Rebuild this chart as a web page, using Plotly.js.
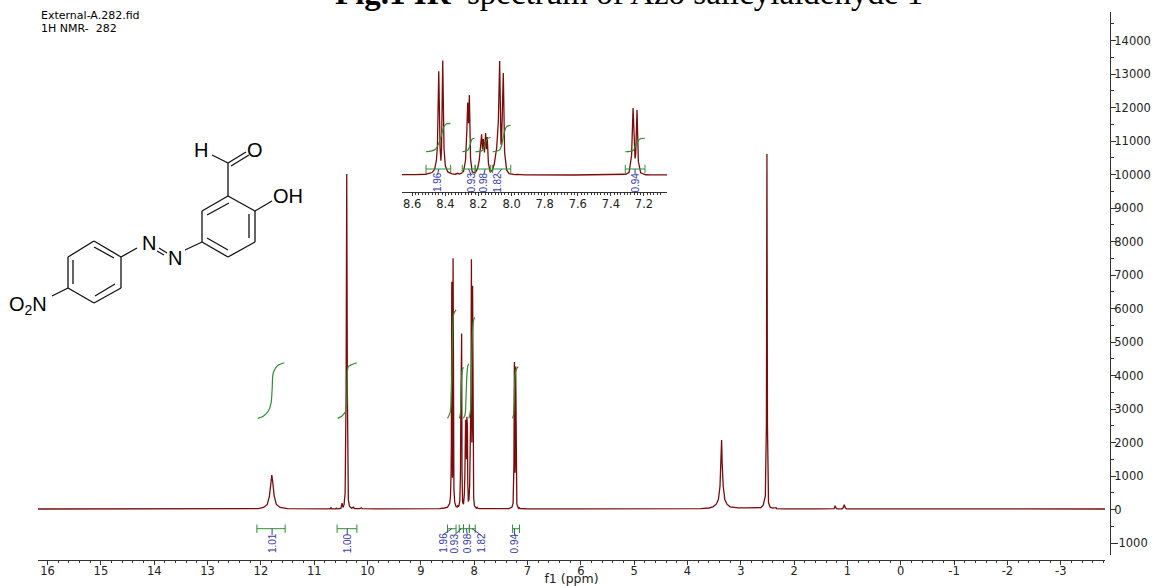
<!DOCTYPE html>
<html><head><meta charset="utf-8">
<script src="https://cdn.plot.ly/plotly-3.0.1.min.js"></script>
<style>html,body{margin:0;padding:0;background:#fff}#c{width:1159px;height:586px}</style></head>
<body><div id="c"></div>
<script>
// ---- spectrum (ppm, intensity)
const ppm = [16.18,14,12.3,12.05,11.95,11.88,11.84,11.81,11.795,11.78,11.75,11.71,11.64,11.5,11,
10.70,10.685,10.67,10.6,10.585,10.57,10.5,10.478,10.462,10.44,10.42,10.402,10.39,10.378,10.36,10.34,10.3,10.26,10.25,10.23,10.14,10.12,10.1,9.8,9,
8.65,8.56,8.5,8.46,8.445,8.434,8.428,8.42,8.412,8.407,8.403,8.396,8.388,8.38,8.365,8.34,8.32,8.305,8.295,8.285,8.27,8.258,8.25,8.245,8.24,8.235,8.228,8.218,8.2,8.185,8.175,8.168,8.161,8.156,8.151,8.144,8.137,8.132,8.127,8.12,8.11,8.098,8.085,8.07,8.06,8.052,8.044,8.04,8.03,8.022,8.01,7.995,7.98,7.96,7.945,7.93,7.9,7.6,7.35,7.29,7.27,7.255,7.246,7.238,7.234,7.23,7.222,7.214,7.2,7.17,7.155,7.14,7.0,6,5,4,
3.75,3.6,3.52,3.46,3.42,3.39,3.37,3.36,3.35,3.33,3.30,3.26,3.2,3.05,2.85,2.7,2.68,2.66,2.62,2.58,2.54,2.52,2.51,2.5,2.48,2.45,2.4,2.35,2.34,2.33,2.2,1.5,1.25,1.23,1.21,1.19,1.1,1.08,1.06,1.04,1.02,0.9,0,-1,-2,-3,-3.83];
const intensity = [15,15,18,25,60,150,400,850,1030,850,400,150,60,25,20,
20,55,20,20,40,20,30,190,60,150,500,3500,10015,3500,300,100,40,70,30,25,25,50,25,20,20,
25,45,70,180,380,1000,1900,6800,1800,950,1800,7500,1700,600,220,90,70,130,80,120,260,1000,3000,4750,3400,5250,1100,220,160,450,1000,1800,2680,1700,2370,1500,2765,1700,2500,800,240,300,700,1800,3500,7470,2000,2400,6680,1500,350,110,60,40,65,35,25,20,25,70,200,1300,4400,1500,1100,1400,4270,900,160,35,55,30,20,18,18,18,
25,45,80,160,300,700,1400,2075,1400,700,300,160,80,50,50,60,75,55,60,130,400,2500,10610,2500,200,70,40,55,60,25,18,18,25,110,30,20,20,50,140,50,20,18,15,15,15,15,15];

// inset axis reads slightly to the left of the main axis
const insetPpmOffset = 0.02;

// ---- integrals: main panel
const int1X=[12.06,11.95,11.86,11.81,11.79,11.77,11.73,11.67,11.56];
const int1Y=[2720,2790,2940,3170,3570,4060,4210,4310,4380];
const int2X=[10.56,10.48,10.41,10.39,10.38,10.36,10.29,10.20];
const int2Y=[2720,2790,2930,3170,3870,4260,4330,4380];
const int3X=[8.50,8.45,8.43,8.41,8.395,8.38,8.34];
const int3Y=[2720,2900,3400,4900,5650,5850,5960];
const int4X=[8.28,8.26,8.245,8.235,8.22,8.20];
const int4Y=[2720,2850,3400,3950,4180,4245];
const int5X=[8.20,8.17,8.15,8.135,8.12,8.10];
const int5Y=[2720,2850,3500,4050,4280,4350];
const int6X=[8.10,8.07,8.05,8.03,8.01,7.99];
const int6Y=[2720,2950,4200,5350,5650,5740];
const int7X=[7.28,7.26,7.245,7.23,7.20,7.17];
const int7Y=[2720,2850,3500,4050,4220,4265];
// ---- integrals: inset
const ins1X=[8.517,8.46,8.43,8.41,8.395,8.37];
const ins1Y=[1540,1700,2400,3150,3350,3400];
const ins2X=[8.298,8.265,8.25,8.24,8.225];
const ins2Y=[1540,1640,2000,2350,2420];
const ins3X=[8.219,8.175,8.16,8.145,8.126];
const ins3Y=[1540,1640,2050,2400,2470];
const ins4X=[8.114,8.07,8.05,8.03,8.005];
const ins4Y=[1540,1700,2500,3180,3270];
const ins5X=[7.313,7.265,7.245,7.225,7.194];
const ins5Y=[1540,1640,2050,2370,2420];

// ---- integral labels and ranges
const intLabels=["1.01","1.00","1.96","0.93","0.98","1.82","0.94"];
const barLeft=[12.075,10.57,8.50,8.28,8.20,8.09,7.28];
const barRight=[11.545,10.20,8.34,8.20,8.09,7.98,7.15];
const barMid=[11.79,10.38,8.42,8.24,8.145,8.04,7.245];
const labelX=[11.79,10.38,8.59,8.37,8.13,7.875,7.245];
const insLabels=["1.96","0.93","0.98","1.82","0.94"];
const insLeft=[8.517,8.298,8.219,8.114,7.313];
const insRight=[8.368,8.221,8.126,8.005,7.194];
const insMid=[8.44,8.26,8.16,8.06,7.254];
const insLabelX=[8.447,8.245,8.167,8.086,7.254];

// ---- ticks
const xTicks=[16,15,14,13,12,11,10,9,8,7,6,5,4,3,2,1,0,-1,-2,-3];
const xTickText=["16","15","14","13","12","11","10","9","8","7","6","5","4","3","2","1","0","-1","-2","-3"];
const yTicks=[-1000,0,1000,2000,3000,4000,5000,6000,7000,8000,9000,10000,11000,12000,13000,14000];
const yTickText=["-1000","0","1000","2000","3000","4000","5000","6000","7000","8000","9000","10000","11000","12000","13000","14000"];
const insTicks=[8.6,8.4,8.2,8.0,7.8,7.6,7.4,7.2];
const insTickText=["8.6","8.4","8.2","8.0","7.8","7.6","7.4","7.2"];

// page-pixel helpers (for the drawing and free text)
const PX=p=>(p-38)/1072, PY=p=>(560-p)/548;
const RED='#7a0c0c', GREEN='#2f8f2f', BLUE='#3a3aa8', AX='#333333', TICKF={family:'"DejaVu Sans"',size:11.5,color:'#222'};

const traces=[
 {x:ppm,y:intensity,mode:'lines',line:{color:RED,width:1.3},xaxis:'x',yaxis:'y'},
 {x:ppm.map(v=>v+insetPpmOffset),y:intensity,mode:'lines',line:{color:RED,width:1.3},xaxis:'x2',yaxis:'y2'}
];
[[int1X,int1Y],[int2X,int2Y],[int3X,int3Y],[int4X,int4Y],[int5X,int5Y],[int6X,int6Y],[int7X,int7Y]].forEach(a=>
 traces.push({x:a[0],y:a[1],mode:'lines',line:{color:GREEN,width:1.2,shape:'spline'},xaxis:'x',yaxis:'y'}));
[[ins1X,ins1Y],[ins2X,ins2Y],[ins3X,ins3Y],[ins4X,ins4Y],[ins5X,ins5Y]].forEach(a=>
 traces.push({x:a[0],y:a[1],mode:'lines',line:{color:GREEN,width:1.2,shape:'spline'},xaxis:'x2',yaxis:'y2'}));
const BAR_MAIN=-573, CONN_MAIN=-760, LAB_MAIN=-1000, BAR_INS=412, CONN_INS=40, LAB_INS=-470;
barLeft.forEach((l,i)=>{
 traces.push({x:[l,barRight[i]],y:[BAR_MAIN,BAR_MAIN],mode:'lines+markers',line:{color:GREEN,width:1},marker:{symbol:'line-ns',size:6,line:{color:GREEN,width:1}},xaxis:'x',yaxis:'y'});
 traces.push({x:[barMid[i],labelX[i]],y:[BAR_MAIN,CONN_MAIN],mode:'lines',line:{color:BLUE,width:1},xaxis:'x',yaxis:'y'});
});
insLeft.forEach((l,i)=>{
 traces.push({x:[l,insRight[i]],y:[BAR_INS,BAR_INS],mode:'lines+markers',line:{color:GREEN,width:1},marker:{symbol:'line-ns',size:6,line:{color:GREEN,width:1}},xaxis:'x2',yaxis:'y2'});
 traces.push({x:[insMid[i],insLabelX[i]],y:[BAR_INS,CONN_INS],mode:'lines',line:{color:BLUE,width:1},xaxis:'x2',yaxis:'y2'});
});

const annotations=[];
intLabels.forEach((t,i)=>annotations.push({text:t,x:labelX[i],y:LAB_MAIN,xref:'x',yref:'y',textangle:-90,showarrow:false,xanchor:'center',yanchor:'middle',font:{family:'"Liberation Sans Narrow","Liberation Sans"',size:10,color:BLUE}}));
insLabels.forEach((t,i)=>annotations.push({text:t,x:insLabelX[i],y:LAB_INS,xref:'x2',yref:'y2',textangle:-90,showarrow:false,xanchor:'center',yanchor:'middle',font:{family:'"Liberation Sans Narrow","Liberation Sans"',size:10,color:BLUE}}));
const free=(t,x,y,size,fam,xa)=>annotations.push({text:t,x:PX(x),y:PY(y),xref:'paper',yref:'paper',showarrow:false,xanchor:xa||'center',yanchor:'middle',font:{family:fam,size:size,color:'#000'},borderpad:0});
free('<b>Fig.1 IR</b>  spectrum of Azo salicylaldehyde 1',628.5,-7,33,'"Liberation Serif"');
free('External-A.282.fid',40,15.5,11,'"DejaVu Sans"','left');
free('1H NMR-  282',40,28.5,11,'"DejaVu Sans"','left');
const SF='"Liberation Sans"';
free('H',201,150,20,SF);
free('O',255,150,20,SF);
free('OH',288,196,20,SF);
free('N',148.5,243,20,SF);
free('N',175,257.5,20,SF);
free('O<sub>2</sub>N',28,305,20,SF);

// chemical structure drawing (page pixels)
const bonds=[
 [228,196,255,211],[255,211,255,242],[255,242,228,257],[228,257,202,242],[202,242,202,211],[202,211,228,196],
 [229,203,207,215],[249,214,249,238],[207,238,228,250],
 [228,196,228,163],[228,163,212,155],[228,163,246,152],[231,166,249,155],
 [255,211,272,201],[202,242,185,250],[159,248,167,253],[157,251,164,255],[137,248,121,257],
 [121,257,121,288],[121,288,94,303],[94,303,68,288],[68,288,68,257],[68,257,94,241],[94,241,121,257],
 [94,247,114,258],[73,260,73,284],[115,284,95,296],[68,288,52,296]
];
const shapes=bonds.map(b=>({type:'line',xref:'paper',yref:'paper',x0:PX(b[0]),y0:PY(b[1]),x1:PX(b[2]),y1:PY(b[3]),line:{color:'#111',width:1.3}}));

const minorX=[];for(let i=-19;i<=80;i++)if(i%5)minorX.push(i/5);
const minorY=[];for(let v=-500;v<=14500;v+=1000)minorY.push(v);
const minorI=[];for(let i=355;i<=430;i++)if(i%10)minorI.push(i/50);
const layout={
 width:1159,height:586,showlegend:false,paper_bgcolor:'#fff',plot_bgcolor:'rgba(0,0,0,0)',
 margin:{l:38,r:49,t:12,b:26,pad:0},
 xaxis:{domain:[0,1067/1072],range:[16.18,-3.83],anchor:'free',position:0,showgrid:false,zeroline:false,showline:true,linecolor:AX,linewidth:1,
  tickmode:'array',tickvals:xTicks,ticktext:xTickText,ticks:'outside',ticklen:4,tickcolor:AX,tickfont:TICKF,ticklabelstandoff:-4,ticklabelshift:2.5,
  minor:{tickmode:'array',tickvals:minorX,ticks:'outside',ticklen:2,tickcolor:AX,showgrid:false},
  title:{text:'f1 (ppm)',font:{family:'"DejaVu Sans"',size:12.5,color:'#222'},standoff:4}},
 yaxis:{domain:[5/548,1],range:[-1358,14851],side:'right',anchor:'free',position:1,showgrid:false,zeroline:false,showline:true,linecolor:AX,linewidth:1,
  tickmode:'array',tickvals:yTicks,ticktext:yTickText,ticks:'outside',ticklen:5,tickcolor:AX,tickfont:TICKF,ticklabelstandoff:-4,
  minor:{tickmode:'array',tickvals:minorY,ticks:'outside',ticklen:3,tickcolor:AX,showgrid:false}},
 xaxis2:{domain:[PX(402),PX(667)],range:[8.662,7.061],anchor:'y2',showgrid:false,zeroline:false,showline:true,linecolor:AX,linewidth:1,
  tickmode:'array',tickvals:insTicks,ticktext:insTickText,ticks:'outside',ticklen:3,tickcolor:AX,tickfont:TICKF,ticklabelstandoff:-2,
  minor:{tickmode:'array',tickvals:minorI,ticks:'outside',ticklen:2,tickcolor:AX,showgrid:false}},
 yaxis2:{domain:[PY(191.7),PY(52)],range:[-1072,8059],anchor:'x2',visible:false},
 annotations:annotations,shapes:shapes,hovermode:false
};
Plotly.newPlot('c',traces,layout,{staticPlot:true,displayModeBar:false});
</script></body></html>
